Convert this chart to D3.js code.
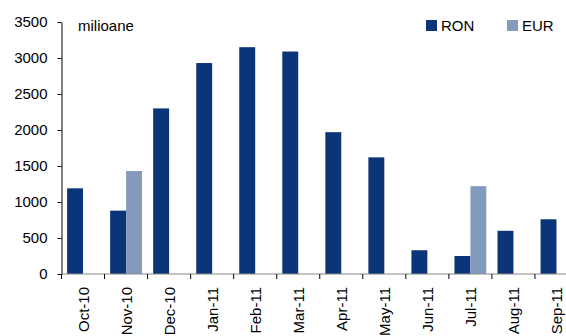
<!DOCTYPE html>
<html>
<head>
<meta charset="utf-8">
<script src="https://cdn.jsdelivr.net/npm/d3@7"></script>
<style>
  html, body { margin: 0; padding: 0; background: #fff; }
  svg { display: block; font-family: "Liberation Sans", Arial, sans-serif; }
</style>
</head>
<body>
<svg id="chart" width="566" height="336"></svg>
<script>
// Monthly amounts, millions
const months = ["Oct-10","Nov-10","Dec-10","Jan-11","Feb-11","Mar-11","Apr-11","May-11","Jun-11","Jul-11","Aug-11","Sep-11"];
const ron = [1190, 880, 2300, 2930, 3150, 3090, 1970, 1620, 330, 250, 600, 760];
const eur = [0, 1430, 0, 0, 0, 0, 0, 0, 0, 1220, 0, 0];
const seriesNames = ["RON", "EUR"];
const yTicks = [0, 500, 1000, 1500, 2000, 2500, 3000, 3500];

const colors = { RON: "#0b3578", EUR: "#859bbd" };
const fontSize = 15;

const svg = d3.select("#chart");
const plot = { left: 61.5, right: 578, top: 22, bottom: 274 };

const x0 = d3.scaleBand().domain(months).range([plot.left, plot.right]).paddingInner(0.26).paddingOuter(0.13);
const x1 = d3.scaleBand().domain(seriesNames).range([0, x0.bandwidth()]);
const y = d3.scaleLinear().domain([0, 3500]).range([plot.bottom, plot.top]);

// Bars
const rows = months.map((m, i) => ({ m, RON: ron[i], EUR: eur[i] }));
svg.append("g").selectAll("g").data(rows).join("g")
  .attr("transform", d => `translate(${x0(d.m)},0)`)
  .selectAll("rect")
  .data(d => seriesNames.map(k => ({ k, v: d[k] })).filter(e => e.v > 0))
  .join("rect")
  .attr("x", e => x1(e.k))
  .attr("width", x1.bandwidth())
  .attr("y", e => y(e.v))
  .attr("height", e => y(0) - y(e.v))
  .attr("fill", e => colors[e.k]);

// Y axis
const yAxis = svg.append("g").attr("transform", `translate(${plot.left},0)`)
  .call(d3.axisLeft(y).tickValues(yTicks).tickFormat(d3.format("d"))
    .tickSize(4).tickPadding(10).tickSizeOuter(0));
yAxis.select(".domain").attr("stroke", "#000");
yAxis.selectAll("text").attr("font-size", fontSize).attr("fill", "#000")
  .attr("font-family", "Liberation Sans, Arial, sans-serif");

// X axis with ticks at category boundaries
const boundaries = months.map(m => x0(m) - x0.step() * x0.paddingInner() / 2);
boundaries.push(plot.right);
const xg = svg.append("g");
xg.append("line").attr("x1", plot.left).attr("x2", plot.right).attr("y1", y(0)).attr("y2", y(0))
  .attr("stroke", "#888").attr("stroke-width", 1);
xg.selectAll("line.tick").data(boundaries).join("line").attr("class", "tick")
  .attr("x1", d => d).attr("x2", d => d).attr("y1", y(0)).attr("y2", y(0) + 5)
  .attr("stroke", "#000");
xg.selectAll("text").data(months).join("text")
  .attr("transform", m => `translate(${x0(m) + x0.bandwidth() / 2 + 5.5},${y(0) + 13}) rotate(-90)`)
  .attr("text-anchor", "end")
  .attr("font-size", fontSize)
  .attr("fill", "#000")
  .text(m => m);

// Unit label
svg.append("text").attr("x", 78).attr("y", 31).attr("font-size", fontSize).attr("fill", "#000").text("milioane");

// Legend
const legendPos = [{ k: "RON", x: 426 }, { k: "EUR", x: 507 }];
const lg = svg.append("g").selectAll("g").data(legendPos).join("g")
  .attr("transform", d => `translate(${d.x},20)`);
lg.append("rect").attr("width", 11).attr("height", 11).attr("fill", d => colors[d.k]);
lg.append("text").attr("x", 15).attr("y", 11).attr("font-size", fontSize).attr("fill", "#000").text(d => d.k);
</script>
</body>
</html>
